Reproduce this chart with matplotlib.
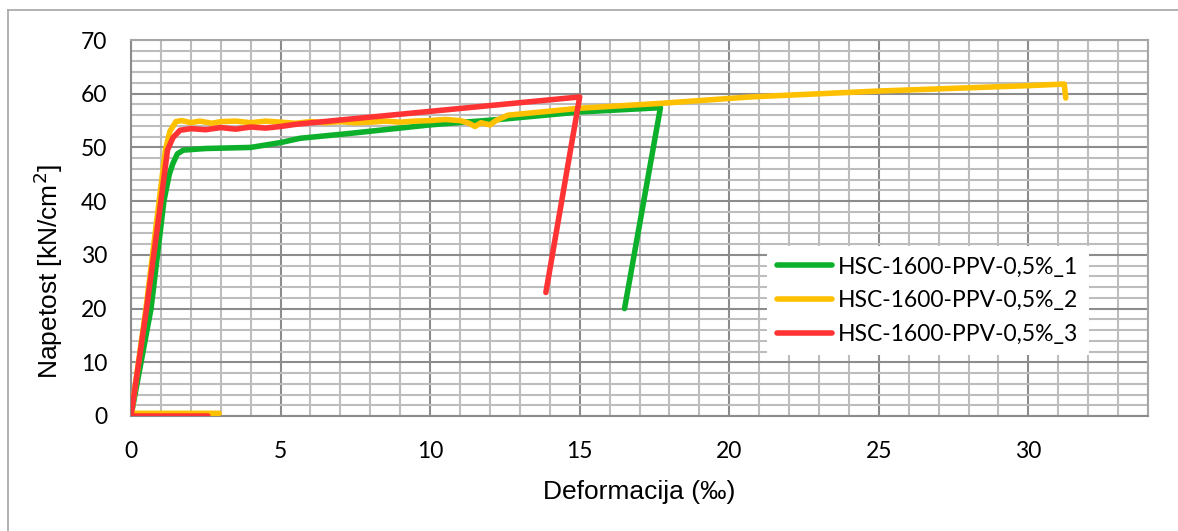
import matplotlib.pyplot as plt
from matplotlib.lines import Line2D
from matplotlib.ticker import MultipleLocator

# strain (permille) / stress (kN/cm2) for the three specimens
eps_1 = [0.0, 0.67, 1.1, 1.28, 1.4, 1.55, 1.75, 2.5, 4.0, 5.0, 5.65, 7.3, 10.0, 12.3, 15.0, 17.7, 16.5]
sig_1 = [0.0, 20.0, 40.0, 45.0, 47.0, 48.8, 49.5, 49.8, 50.0, 50.9, 51.7, 52.6, 54.2, 55.2, 56.6, 57.4, 20.0]

eps_2 = [2.95, 0.05, 0.0, 0.5, 1.15, 1.3, 1.5, 1.7, 2.0, 2.3, 2.7, 3.0, 3.5, 4.0, 4.5, 5.0, 5.5, 6.0,
         6.5, 7.0, 7.5, 8.0, 8.5, 9.0, 9.5, 10.0, 10.5, 11.0, 11.3, 11.5, 11.7, 12.0, 12.2, 12.6,
         15.0, 17.7, 20.7, 25.0, 30.0, 31.2, 31.25]
sig_2 = [0.5, 0.5, 0.0, 20.0, 49.5, 53.0, 54.8, 55.0, 54.6, 54.9, 54.5, 54.8, 54.9, 54.6, 54.9, 54.7,
         54.5, 54.8, 54.6, 54.8, 54.6, 54.7, 54.9, 54.7, 54.9, 55.0, 55.2, 55.0, 54.5, 53.9, 54.6,
         54.2, 55.0, 56.0, 57.3, 58.2, 59.4, 60.5, 61.5, 61.8, 59.2]

eps_3 = [2.57, 0.0, 0.52, 1.0, 1.22, 1.4, 1.64, 2.0, 2.5, 3.0, 3.5, 4.0, 4.5, 5.0, 5.5, 15.0, 13.87]
sig_3 = [0.0, 0.0, 20.0, 40.0, 49.5, 51.8, 53.2, 53.5, 53.3, 53.7, 53.4, 53.8, 53.6, 53.9, 54.3, 59.4, 23.0]

labels = ['HSC-1600-PPV-0,5%_1', 'HSC-1600-PPV-0,5%_2', 'HSC-1600-PPV-0,5%_3']
colors = ['#0DB02B', '#FFC000', '#FF3333']

fig = plt.figure(figsize=(11.78, 5.31), dpi=100)
ax = fig.add_axes([131/1178, 115/531, 1017/1178, 376/531])

ax.plot(eps_1, sig_1, color=colors[0], lw=4, solid_capstyle='round', solid_joinstyle='round', zorder=3)
ax.plot(eps_2, sig_2, color=colors[1], lw=4, solid_capstyle='round', solid_joinstyle='round', zorder=4)
ax.plot(eps_3, sig_3, color=colors[2], lw=4, solid_capstyle='round', solid_joinstyle='round', zorder=5)

ax.set_xlim(0, 34)
ax.set_ylim(0, 70)
ax.xaxis.set_major_locator(MultipleLocator(5))
ax.xaxis.set_minor_locator(MultipleLocator(1))
ax.yaxis.set_major_locator(MultipleLocator(10))
ax.yaxis.set_minor_locator(MultipleLocator(2))
ax.grid(which='minor', color='#bdbdbd', lw=1.5, zorder=0)
ax.grid(which='major', color='#8c8c8c', lw=1.5, zorder=1)
ax.set_axisbelow(True)
for s in ax.spines.values():
    s.set_color('#a6a6a6')
    s.set_linewidth(1.5)
ax.spines['bottom'].set_color('#8c8c8c')
ax.spines['left'].set_color('#8c8c8c')
ax.tick_params(which='both', length=0)
ax.tick_params(axis='x', pad=18, labelsize=16.5)
ax.tick_params(axis='y', pad=17, labelsize=16.5)
for t in ax.get_xticklabels() + ax.get_yticklabels():
    t.set_family('Lato')

fig.text(639/1178, 1 - 492/531, 'Deformacija (‰)', ha='center', va='center',
         fontsize=19, family='Liberation Sans')
fig.text(48/1178, 1 - 271/531, 'Napetost [kN/cm$^2$]', rotation=90, ha='center', va='center',
         fontsize=19, family='Liberation Sans')

handles = [Line2D([], [], color=c, lw=4, solid_capstyle='round') for c in colors]
leg = ax.legend(handles, labels, loc='lower left', bbox_to_anchor=((767 - 131)/1017, (416 - 355)/376),
                borderaxespad=0, frameon=True, fancybox=False, framealpha=1, edgecolor='white',
                prop={'family': 'Lato', 'size': 16.5}, handlelength=2.4, handletextpad=0.25,
                labelspacing=0.55, borderpad=0.45)
leg.get_frame().set_linewidth(0)

# chart area border, only top and left edges visible
fig.add_artist(Line2D([8/1178, 8/1178], [0, 1 - 10/531], color='#a6a6a6', lw=1.2))
fig.add_artist(Line2D([8/1178, 1], [1 - 10/531, 1 - 10/531], color='#a6a6a6', lw=1.2))

fig.savefig('out.png', dpi=100)
